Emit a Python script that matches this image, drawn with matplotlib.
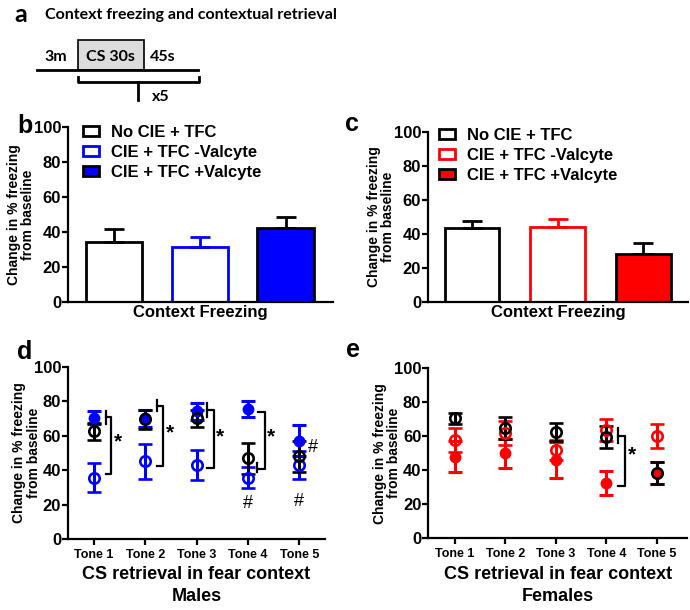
"""
Context freezing / CS retrieval figure (panels a-e).
"""
import numpy as np
import matplotlib
matplotlib.use("Agg")
import matplotlib.pyplot as plt
from matplotlib.patches import Rectangle, Patch

plt.rcParams['font.family'] = ['Liberation Sans', 'DejaVu Sans']
plt.rcParams['font.weight'] = 'bold'

# ---- data ----
groups = ['No CIE + TFC', 'CIE + TFC -Valcyte', 'CIE + TFC +Valcyte']
ctx_male = [34.5, 31.6, 42.5]
ctx_male_err = [7.1, 5.7, 6.2]
ctx_female = [43.4, 44.0, 28.3]
ctx_female_err = [4.4, 5.0, 6.3]

tones = ['Tone 1', 'Tone 2', 'Tone 3', 'Tone 4', 'Tone 5']
# males (d)
m_ctrl = [62.5, 69.5, 70.0, 47.0, 48.0]
m_ctrl_err = [5.0, 5.5, 5.0, 9.0, 9.0]
m_minus = [35.5, 45.0, 43.0, 35.5, 43.0]
m_minus_err = [8.5, 10.0, 8.5, 6.0, 8.0]
m_plus = [70.5, 70.0, 74.0, 75.5, 57.0]
m_plus_err = [4.0, 5.0, 5.0, 4.5, 9.0]
# females (e)
f_ctrl = [70.5, 65.0, 62.5, 59.5, 38.5]
f_ctrl_err = [3.5, 6.5, 5.5, 6.5, 6.5]
f_minus = [58.0, 62.0, 52.0, 63.5, 60.0]
f_minus_err = [7.0, 7.0, 6.0, 6.5, 7.0]
f_plus = [48.0, 50.0, 46.0, 32.5, 38.5]
f_plus_err = [9.0, 8.5, 10.5, 7.0, 6.5]

BLUE = '#0000ff'
RED = '#ff0000'
W, H = 690, 610

fig = plt.figure(figsize=(6.9, 6.1), dpi=100)


def fax(x0, y0, x1, y1):
    # pixel box (top-left origin) -> axes
    return fig.add_axes([x0 / W, 1 - y1 / H, (x1 - x0) / W, (y1 - y0) / H])


def style_axis(ax, lpad):
    for s in ['top', 'right']:
        ax.spines[s].set_visible(False)
    for s in ['left', 'bottom']:
        ax.spines[s].set_linewidth(1.6)
    ax.set_ylim(0, 100)
    ax.set_yticks([0, 20, 40, 60, 80, 100])
    ax.tick_params(axis='y', labelsize=12, width=1.6, length=4, pad=1)
    for t in ax.get_yticklabels():
        t.set_fontweight('bold')
    ax.set_ylabel('Change in % freezing\nfrom baseline', fontsize=10,
                  fontweight='bold', labelpad=lpad, linespacing=1.0)


# ---- panel a ----
fig.text(14 / W, 1 - 15 / H, 'a', fontsize=18, fontweight='bold',
         family='Lato', va='center')
fig.text(45 / W, 1 - 15 / H, 'Context freezing and contextual retrieval',
         fontsize=11.5, fontweight='bold', family='Lato', va='center')
axa = fig.add_axes([0, 0, 1, 1])
axa.set_xlim(0, W)
axa.set_ylim(H, 0)
axa.axis('off')
axa.add_patch(Rectangle((78, 40), 66, 30, facecolor='#dcdcdc',
                        edgecolor='black', lw=1.2))
axa.plot([37, 198], [70, 70], color='black', lw=2)
axa.plot([78, 78, 199, 199], [77, 82, 82, 77], color='black', lw=2)
axa.plot([138, 138], [82, 100], color='black', lw=2)
for x, s in [(56, '3m'), (110, 'CS 30s'), (163, '45s')]:
    axa.text(x, 57, s, ha='center', va='center', fontsize=11.5,
             fontweight='bold', family='Lato')
axa.text(152, 97, 'x5', ha='left', va='center', fontsize=11.5,
         fontweight='bold', family='Lato')


def bar_panel(box, vals, errs, color, xlim, width, leg_anchor):
    ax = fax(*box)
    x = np.arange(3)
    faces = ['white', 'white', color]
    edges = ['black', color, 'black']
    for i in range(3):
        ax.bar(x[i], vals[i], width=width, facecolor=faces[i],
               edgecolor=edges[i], linewidth=2)
        ax.errorbar(x[i], vals[i], yerr=[[0], [errs[i]]], fmt='none',
                    ecolor=edges[i], elinewidth=2, capsize=7, capthick=2)
    ax.set_xlim(*xlim)
    ax.set_xticks([])
    style_axis(ax, -1)
    ax.set_xlabel('Context Freezing', fontsize=12, fontweight='bold', labelpad=2)
    handles = [Patch(facecolor=faces[i], edgecolor=edges[i], linewidth=2)
               for i in range(3)]
    ax.legend(handles, groups, loc='upper left', bbox_to_anchor=leg_anchor,
              frameon=False, handlelength=1.0, handleheight=0.55,
              handletextpad=0.7, labelspacing=0.3, borderaxespad=0,
              prop={'size': 12, 'weight': 'bold'})
    return ax


axb = bar_panel((68, 127, 333, 302), ctx_male, ctx_male_err, BLUE,
                (-0.535, 2.55), 0.66, (0.03, 1.05))
axc = bar_panel((428, 131.7, 688, 302.3), ctx_female, ctx_female_err, RED,
                (-0.513, 2.52), 0.64, (0.015, 1.06))
fig.text(17 / W, 1 - 126 / H, 'b', fontsize=18, fontweight='bold', va='center')
fig.text(345 / W, 1 - 124 / H, 'c', fontsize=18, fontweight='bold', va='center')


def point_panel(box, xlim, ctrl, ce, minus, me, plus, pe, color, sub):
    ax = fax(*box)
    x = np.arange(1, 6)
    kw = dict(fmt='o', ms=7.5, elinewidth=2.2, capsize=5, capthick=2.2)
    ax.errorbar(x, plus, yerr=pe, color=color, mfc=color, mec=color, **kw)
    ax.errorbar(x, minus, yerr=me, color=color, mfc='none', mec=color,
                mew=1.9, **kw)
    ax.errorbar(x, ctrl, yerr=ce, color='black', mfc='none', mec='black',
                mew=1.9, **kw)
    ax.set_xlim(*xlim)
    ax.set_xticks(x)
    ax.set_xticklabels(tones, fontsize=9, fontweight='bold')
    ax.tick_params(axis='x', width=1.6, length=4, pad=3)
    style_axis(ax, -5)
    ax.set_xlabel('CS retrieval in fear context\n' + sub, fontsize=13,
                  fontweight='bold', labelpad=4, linespacing=1.4)
    return ax


axd = point_panel((68, 366.7, 325, 539), (0.493, 5.5), m_ctrl, m_ctrl_err,
                  m_minus, m_minus_err, m_plus, m_plus_err, BLUE, 'Males')
axe = point_panel((428.3, 368.3, 687, 538.3), (0.47, 5.6), f_ctrl, f_ctrl_err,
                  f_minus, f_minus_err, f_plus, f_plus_err, RED, 'Females')
fig.text(17 / W, 1 - 352 / H, 'd', fontsize=18, fontweight='bold', va='center')
fig.text(346 / W, 1 - 350 / H, 'e', fontsize=18, fontweight='bold', va='center')

# significance brackets (male panel)
bk = dict(color='black', lw=1.6, clip_on=False)
# tone 1
axd.plot([1.23, 1.23], [67, 74.5], **bk)
axd.plot([1.23, 1.34, 1.34, 1.24], [70.6, 70.6, 37.5, 37.5], **bk)
# tone 2
axd.plot([2.22, 2.22], [74.5, 80.7], **bk)
axd.plot([2.22, 2.34, 2.34, 2.23], [77.4, 77.4, 42.5, 42.5], **bk)
# tone 3
axd.plot([3.20, 3.20], [71, 78.7], **bk)
axd.plot([3.20, 3.33, 3.33, 3.21], [74.9, 74.9, 41.4, 41.4], **bk)
# tone 4
axd.plot([4.2, 4.33, 4.33, 4.18], [73.9, 73.9, 40.4, 40.4], **bk)
axd.plot([4.18, 4.18], [39, 43.9], **bk)
for xs, ys in [(1.47, 56.5), (2.47, 61.7), (3.46, 59.4), (4.44, 59.4)]:
    axd.text(xs, ys, '*', ha='center', va='center', fontsize=15)
for xs, ys in [(5.27, 53.2), (4.0, 20.7), (5.0, 21.7)]:
    axd.text(xs, ys, '#', ha='center', va='center', fontsize=13,
             fontweight='normal')

# significance bracket (female panel)
axe.plot([4.23, 4.23], [55.9, 64.7], **bk)
axe.plot([4.23, 4.38, 4.38, 4.23], [60.2, 60.2, 30.8, 30.8], **bk)
axe.text(4.51, 49, '*', ha='center', va='center', fontsize=15)

fig.savefig('out.png', dpi=100)
